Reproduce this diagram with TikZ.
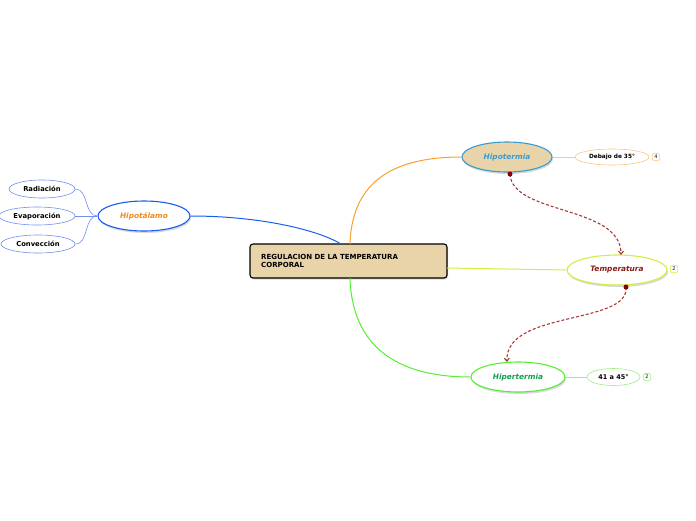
\documentclass[tikz,border=0pt]{standalone}
\usepackage{fontspec}
\setmainfont{DejaVu Sans}
\usetikzlibrary{shapes.geometric,shadows,arrows.meta}
\definecolor{tan}{HTML}{E8D4A8}
\definecolor{hipoBlue}{HTML}{3A9BD0}
\definecolor{orangeLine}{HTML}{F7A030}
\definecolor{orangeLight}{HTML}{FBC880}
\definecolor{tempLine}{HTML}{D4EE40}
\definecolor{tempText}{HTML}{8B1A1A}
\definecolor{hyperGreen}{HTML}{55EE33}
\definecolor{hyperLight}{HTML}{9CF080}
\definecolor{hyperText}{HTML}{11A050}
\definecolor{hipoBlueLine}{HTML}{1A5CF0}
\definecolor{childBlue}{HTML}{7090F0}
\definecolor{hipoOrange}{HTML}{F28A1A}
\definecolor{dashRed}{HTML}{A83838}
\definecolor{dotRed}{HTML}{8B0000}
\tikzset{
  mainnode/.style={ellipse, draw, line width=1.1pt, inner sep=0pt,
    font=\fontsize{7.4}{8}\selectfont\bfseries\itshape,
    drop shadow={shadow xshift=1pt, shadow yshift=-2pt, opacity=0.3}},
  subnode/.style={ellipse, draw, line width=0.6pt, inner sep=0pt, fill=white,
    font=\fontsize{6.8}{8}\selectfont\bfseries},
  badge/.style={draw, rounded corners=1.5pt, line width=0.6pt, minimum width=7.5pt,
    minimum height=7.5pt, inner sep=0pt, font=\fontsize{5}{5}\selectfont},
  dashlink/.style={dashRed, line width=1.1pt, dash pattern=on 3pt off 2pt,
    -{Straight Barb[length=3pt,width=5pt]}},
  dotmark/.style={circle, fill=dotRed, inner sep=0pt, minimum size=5pt}
}
\begin{document}
\begin{tikzpicture}[x=1pt,y=-1pt]
\useasboundingbox (0,0) rectangle (696,520);
\coordinate (ctop1) at (341,244);
\coordinate (ctop2) at (350,244);
\coordinate (cbot) at (350,278);
\coordinate (cright) at (447,268);

\node[mainnode, fill=white, draw=hipoBlueLine, text=hipoOrange, minimum width=92pt, minimum height=30pt] (hipot) at (144,216) {Hipotálamo};
\node[mainnode, fill=tan, draw=hipoBlue, text=hipoBlue, minimum width=90pt, minimum height=30pt] (hipo) at (507,157) {Hipotermia};
\node[mainnode, fill=white, draw=tempLine, text=tempText, minimum width=100pt, minimum height=30pt] (temp) at (617,270) {Temperatura};
\node[mainnode, fill=white, draw=hyperGreen, text=hyperText, minimum width=94pt, minimum height=30pt] (hyper) at (518,377) {Hipertermia};

\node[draw=black, line width=1.1pt, fill=tan, rounded corners=3pt, minimum width=197pt, minimum height=34pt,
  drop shadow={shadow xshift=1pt, shadow yshift=-1.5pt, opacity=0.3}] (center) at (348.5,261) {};
\node[anchor=west, align=left, inner sep=0pt, font=\fontsize{7}{8.8}\selectfont\bfseries] (ctext) at (261,261) {REGULACION DE LA TEMPERATURA\\CORPORAL};

\node[subnode, draw=childBlue, minimum width=66pt, minimum height=18pt] (rad) at (42,189) {Radiación};
\node[subnode, draw=childBlue, minimum width=76pt, minimum height=18pt] (eva) at (37,216) {Evaporación};
\node[subnode, draw=childBlue, minimum width=74pt, minimum height=18pt] (con) at (38,244) {Convección};

\node[subnode, draw=orangeLight, minimum width=74pt, minimum height=16pt, font=\fontsize{5.8}{7}\selectfont\bfseries] (deb) at (612,157) {Debajo de 35°};
\node[subnode, draw=hyperLight, minimum width=53pt, minimum height=17pt, font=\fontsize{6.5}{7}\selectfont\bfseries] (rng) at (613.5,377) {41 a 45°};

\node[badge, draw=orangeLight] (b1) at (656,157) {4};
\node[badge, draw=tempLine] (b2) at (674,269) {2};
\node[badge, draw=hyperLight] (b3) at (647,377) {2};

% main branches
\draw[hipoBlueLine, line width=1pt] (hipot.east) .. controls (260,216) and (318,230) .. (ctop1);
\draw[orangeLine, line width=1pt] (ctop2) .. controls (352,178) and (398,157) .. (hipo.west);
\draw[hyperGreen, line width=1pt] (cbot) .. controls (352,345) and (395,377) .. (hyper.west);
\draw[tempLine, line width=1pt] (cright) -- (temp.west);
\draw[orangeLight, line width=1pt] (hipo.east) -- (deb.west);
\draw[hyperLight, line width=1pt] (hyper.east) -- (rng.west);
% hipotalamo children
\draw[childBlue, line width=0.6pt] (hipot.west) to[out=180,in=0] (rad.east);
\draw[childBlue, line width=0.6pt] (hipot.west) -- (eva.east);
\draw[childBlue, line width=0.6pt] (hipot.west) to[out=180,in=0] (con.east);

% dashed relations
\coordinate (d1s) at (510,174);
\coordinate (d1e) at (621,255);
\coordinate (d2s) at (626,287);
\coordinate (d2e) at (507,362);
\draw[dashlink] (d1s) .. controls (512,215) and (621,205) .. (d1e);
\draw[dashlink] (d2s) .. controls (630,325) and (505,310) .. (d2e);
\node[dotmark] (dot1) at (d1s) {};
\node[dotmark] (dot2) at (d2s) {};
\end{tikzpicture}
\end{document}
